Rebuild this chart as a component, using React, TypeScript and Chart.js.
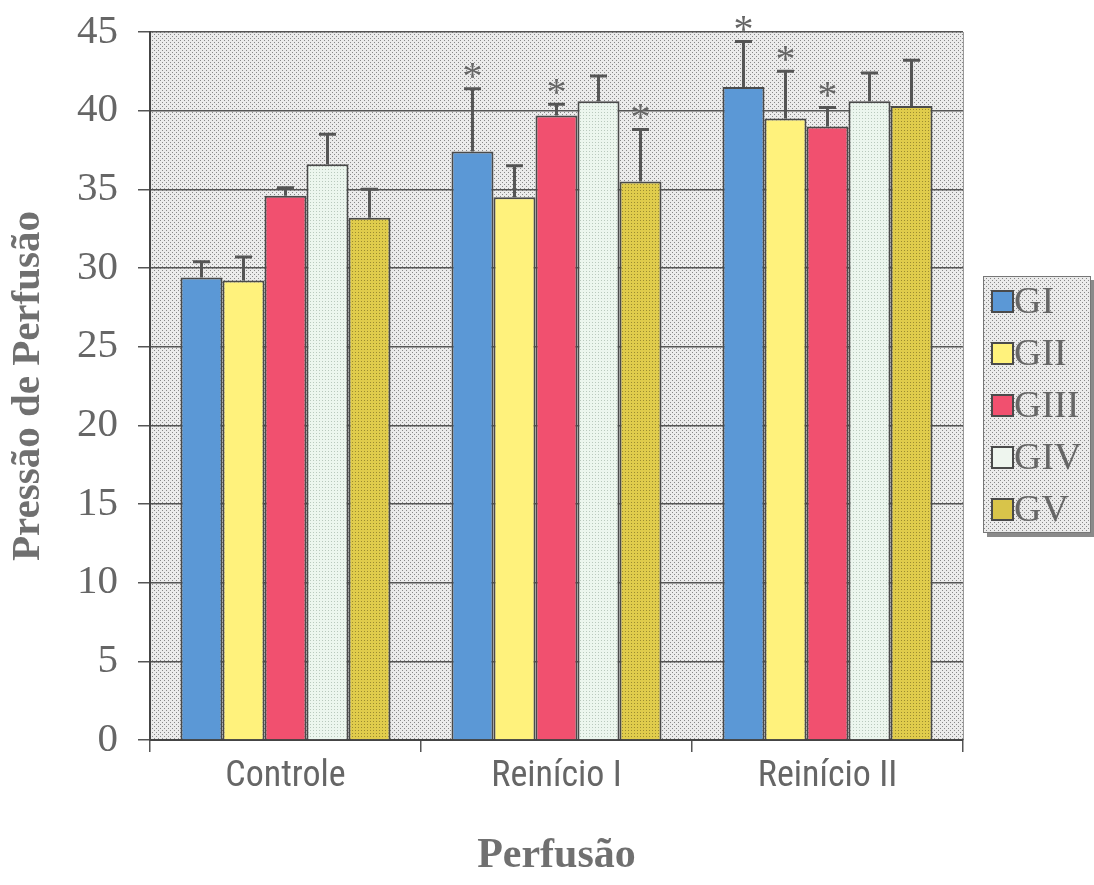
import React, { useEffect, useRef } from "react";
import { Chart, registerables } from "chart.js";

Chart.register(...registerables);

const categories = ["Controle", "Reinício I", "Reinício II"];
const groupLabels = ["GI", "GII", "GIII", "GIV", "GV"];

const giValues = [29.4, 37.4, 41.5];
const giErrors = [1.0, 4.0, 2.9];
const giiValues = [29.2, 34.5, 39.5];
const giiErrors = [1.5, 2.0, 3.0];
const giiiValues = [34.6, 39.7, 39.0];
const giiiErrors = [0.5, 0.7, 1.2];
const givValues = [36.6, 40.6, 40.6];
const givErrors = [1.9, 1.6, 1.8];
const gvValues = [33.2, 35.5, 40.3];
const gvErrors = [1.8, 3.3, 2.9];

const giSignificant = [false, true, true];
const giiSignificant = [false, false, true];
const giiiSignificant = [false, true, true];
const givSignificant = [false, false, false];
const gvSignificant = [false, true, false];

const yTicks = [0, 5, 10, 15, 20, 25, 30, 35, 40, 45];

const yTitle = "Pressão de Perfusão";
const xTitle = "Perfusão";

function makePattern(bg: string, dot: string, size: number, dots: [number, number][]) {
  const c = document.createElement("canvas");
  c.width = size;
  c.height = size;
  const g = c.getContext("2d")!;
  g.fillStyle = bg;
  g.fillRect(0, 0, size, size);
  g.fillStyle = dot;
  dots.forEach(([x, y]) => g.fillRect(x, y, 1, 1));
  const ctx = document.createElement("canvas").getContext("2d")!;
  return ctx.createPattern(c, "repeat")!;
}

function hasFont(name: string) {
  const ctx = document.createElement("canvas").getContext("2d")!;
  const s = "Controle Reinício";
  ctx.font = "40px monospace";
  const a = ctx.measureText(s).width;
  ctx.font = `40px "${name}", monospace`;
  const b = ctx.measureText(s).width;
  return Math.abs(a - b) > 0.5;
}

function pickXFont() {
  const candidates: [string, number][] = [
    ["Liberation Sans Narrow", 37],
    ["Roboto Condensed", 36],
    ["DejaVu Sans Condensed", 32],
  ];
  for (const [name, size] of candidates) {
    if (hasFont(name)) return { family: `"${name}", "Liberation Sans", sans-serif`, size };
  }
  return { family: '"Liberation Sans", Arial, sans-serif', size: 32 };
}

export default function App() {
  const ref = useRef<HTMLCanvasElement>(null);

  useEffect(() => {
    document.body.style.margin = "0";
    const canvas = ref.current!;
    const xTickFont = pickXFont();

    const plotBg = makePattern("#ebebeb", "#888888", 4, [[0, 0], [2, 2]]);
    const blue = "#5b98d6";
    const yellow = "#fff27c";
    const red = "#f1506f";
    const mint = makePattern("#ecf6ee", "#b9c9bd", 3, [[1, 1]]);
    const olive = makePattern("#e0cc4c", "#9c8c30", 3, [[1, 1]]);

    const errorsList = [giErrors, giiErrors, giiiErrors, givErrors, gvErrors];
    const sigList = [giSignificant, giiSignificant, giiiSignificant, givSignificant, gvSignificant];
    const valuesList = [giValues, giiValues, giiiValues, givValues, gvValues];
    const colors: any[] = [blue, yellow, red, mint, olive];
    const legendSwatches = ["#5b98d6", "#fff27c", "#f1506f", "#eef5ee", "#d8c44a"];

    const bgPlugin = {
      id: "plotBg",
      beforeDraw(chart: any) {
        const { ctx, chartArea: a } = chart;
        ctx.save();
        ctx.fillStyle = plotBg;
        ctx.fillRect(a.left, a.top, a.right - a.left, a.bottom - a.top);
        ctx.strokeStyle = "#9a9a9a";
        ctx.lineWidth = 1;
        ctx.beginPath();
        ctx.moveTo(a.right + 0.5, a.top);
        ctx.lineTo(a.right + 0.5, a.bottom);
        ctx.stroke();
        ctx.restore();
      },
    };

    const errPlugin = {
      id: "errBars",
      afterDatasetsDraw(chart: any) {
        const { ctx } = chart;
        const yScale = chart.scales.y;
        ctx.save();
        chart.data.datasets.forEach((ds: any, di: number) => {
          const meta = chart.getDatasetMeta(di);
          meta.data.forEach((bar: any, i: number) => {
            const v = ds.data[i];
            const e = errorsList[di][i];
            const yTop = yScale.getPixelForValue(v + e);
            ctx.strokeStyle = "#555555";
            ctx.lineWidth = 3;
            ctx.beginPath();
            ctx.moveTo(bar.x, bar.y);
            ctx.lineTo(bar.x, yTop);
            ctx.moveTo(bar.x - 8.5, yTop);
            ctx.lineTo(bar.x + 8.5, yTop);
            ctx.stroke();
            if (sigList[di][i]) {
              ctx.fillStyle = "#666666";
              ctx.font = '40px "Liberation Serif", serif';
              ctx.textAlign = "center";
              ctx.textBaseline = "middle";
              ctx.fillText("*", bar.x, yTop - 10);
            }
          });
        });
        ctx.restore();
      },
    };

    const legendPlugin = {
      id: "boxLegend",
      afterDraw(chart: any) {
        const { ctx } = chart;
        const x0 = 983;
        const y0 = 276;
        const w = 108;
        const h = 257;
        ctx.save();
        ctx.fillStyle = "#8a8a8a";
        ctx.fillRect(x0 + 4, y0 + 4, w, h);
        ctx.fillStyle = plotBg;
        ctx.fillRect(x0, y0, w, h);
        ctx.strokeStyle = "#777777";
        ctx.lineWidth = 1;
        ctx.strokeRect(x0 + 0.5, y0 + 0.5, w - 1, h - 1);
        chart.data.datasets.forEach((ds: any, i: number) => {
          const cy = y0 + 25 + i * 52;
          ctx.fillStyle = legendSwatches[i];
          ctx.fillRect(x0 + 9, cy - 10, 21, 21);
          ctx.strokeStyle = "#4a4a4a";
          ctx.lineWidth = 2;
          ctx.strokeRect(x0 + 9, cy - 10, 21, 21);
          ctx.fillStyle = "#666666";
          ctx.font = '38px "Liberation Serif", serif';
          ctx.textAlign = "left";
          ctx.textBaseline = "middle";
          ctx.fillText(ds.label, x0 + 31, cy + 2);
        });
        ctx.restore();
      },
    };

    const chart = new Chart(canvas, {
      type: "bar",
      data: {
        labels: categories,
        datasets: groupLabels.map((label, i) => ({
          label,
          data: valuesList[i],
          backgroundColor: colors[i],
          borderColor: "#4a4a4a",
          borderWidth: 2,
          categoryPercentage: 0.775,
          barPercentage: 1.0,
        })),
      },
      options: {
        animation: false,
        responsive: false,
        devicePixelRatio: 1,
        layout: { padding: { top: 32, right: 131, left: 0, bottom: 0 } },
        plugins: {
          legend: { display: false },
          tooltip: { enabled: false },
        },
        scales: {
          x: {
            offset: true,
            grid: {
              offset: true,
              drawOnChartArea: false,
              drawTicks: true,
              tickLength: 12,
              color: "#555555",
              lineWidth: 1.5,
            },
            border: { color: "#444444", width: 2 },
            ticks: {
              color: "#666666",
              padding: 3,
              font: xTickFont,
            },
            title: {
              display: true,
              text: xTitle,
              color: "#707070",
              padding: { top: 0, bottom: 4 },
              font: { family: '"Liberation Serif", "Times New Roman", serif', size: 42, weight: "bold" },
            },
            afterFit(scale: any) {
              scale.height = 145;
              scale.paddingLeft = 0;
              scale.paddingRight = 0;
            },
          },
          y: {
            min: 0,
            max: 45,
            afterBuildTicks(scale: any) {
              scale.ticks = yTicks.map((v) => ({ value: v }));
            },
            grid: {
              color: "#555555",
              lineWidth: 1.5,
              drawTicks: true,
              tickLength: 12,
            },
            border: { color: "#444444", width: 2 },
            ticks: {
              color: "#666666",
              padding: 20,
              font: { family: '"Liberation Serif", "Times New Roman", serif', size: 41 },
            },
            title: {
              display: true,
              text: yTitle,
              color: "#707070",
              padding: { top: 4, bottom: 0 },
              font: { family: '"Liberation Serif", "Times New Roman", serif', size: 41, weight: "bold" },
            },
            afterFit(scale: any) {
              scale.width = 150;
              scale.paddingTop = 0;
              scale.paddingBottom = 0;
            },
          },
        },
      },
      plugins: [bgPlugin, errPlugin, legendPlugin],
    });

    return () => chart.destroy();
  }, []);

  return <canvas ref={ref} width={1094} height={885} style={{ display: "block" }} />;
}
